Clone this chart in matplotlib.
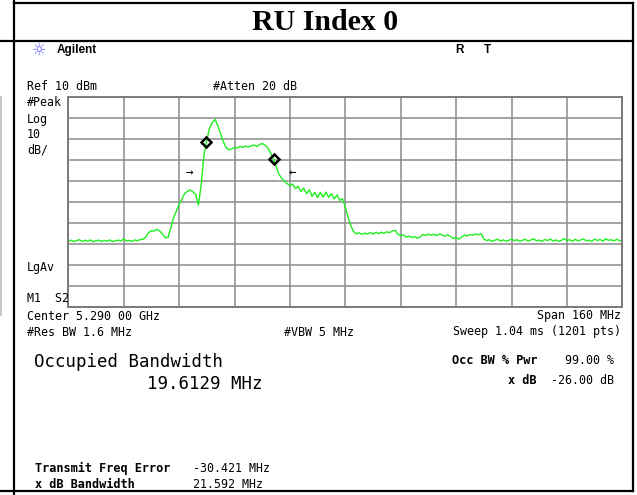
import matplotlib
matplotlib.use('Agg')
import matplotlib.pyplot as plt
import numpy as np
from matplotlib.lines import Line2D

# === ANALYZER SETTINGS === #
center_mhz = 5290.0
span_mhz = 160.0
n_pts = 201              # trace at 201 sweep points
ref_dbm = 10.0
db_per_div = 10.0

# trace level (dBm) at each sweep point
trace_dbm = [
    -58.9, -58.3, -59.0, -58.5, -58.1, -58.9, -58.4, -58.8, -58.2, -59.1,
    -58.6, -58.3, -58.9, -58.5, -58.8, -58.2, -59.0, -58.6, -58.3, -58.7,
    -57.7, -58.8, -58.4, -58.9, -58.2, -58.6, -58.0,
    -57.9, -56.8, -54.6, -53.8, -54.0, -53.1, -54.0, -55.3, -57.2, -57.0,
    -52.5, -47.6, -44.5, -41.3, -38.9, -36.1, -35.1, -34.4, -35.3, -36.6,
    -41.6,
    -31.5, -17.5, -10.5, -5.0, -2.2, -0.8, -3.9, -7.6, -11.6, -14.3,
    -15.3, -14.8, -14.2, -14.4, -13.6, -14.2, -13.5, -14.0, -13.4, -13.0,
    -13.7, -12.8, -12.3, -13.1, -14.3, -16.8, -19.2, -23.0, -26.8, -28.8,
    -30.3, -31.4, -32.3, -31.6, -33.8, -32.7, -35.1, -33.5, -36.2, -34.3,
    -37.4, -35.5, -38.1, -35.6, -37.8, -35.4, -37.9, -36.2, -38.7, -36.8,
    -39.4, -38.6,
    -42.6, -47.3, -51.5, -54.3,
    -55.3, -54.8, -55.6, -54.9, -55.5, -54.7, -55.4, -54.6, -55.2, -54.5,
    -55.1, -54.3, -54.8, -53.9, -53.7,
    -55.5, -56.2, -55.8, -56.9, -56.3, -57.1, -56.6, -57.4, -56.8,
    -55.6, -56.1, -55.4, -56.0, -55.5, -56.2, -55.3, -55.9, -56.4, -55.8,
    -56.6,
    -57.6, -57.1, -57.8, -56.9,
    -55.9, -56.3, -55.6, -56.0, -55.4, -55.8, -55.2,
    -57.8,
    -58.5, -58.1, -58.9, -58.3, -57.9, -58.7, -58.2, -58.8, -58.4, -57.8,
    -58.6, -58.1, -58.9, -58.3, -57.9, -58.8, -58.2, -57.7, -58.6, -58.3,
    -58.9, -58.0, -58.5, -57.8, -58.7, -58.2, -58.9, -58.4, -57.6, -58.5,
    -58.1, -58.8, -57.9, -58.6, -58.2, -57.7, -58.7, -58.3, -58.9, -57.8,
    -58.5, -58.0, -58.8, -57.6, -58.4, -58.1, -58.7, -57.9, -58.5, -58.8,
]

# occupied bandwidth markers (diamonds) and x dB arrows
marker_mhz = [5249.9, 5269.4]
marker_dbm = [-11.4, -19.5]
arrow_mhz = [5244.9, 5274.7]
arrow_dbm = [-26.5, -26.5]
arrow_txt = ['\u2192', '\u2190']

freq = center_mhz - span_mhz / 2 + span_mhz * np.arange(n_pts) / (n_pts - 1)

W, H = 637, 495
def fx(x):
    return x / W
def fy(y):
    return 1 - y / H

mono = 'DejaVu Sans Mono'
fig = plt.figure(figsize=(W / 100, H / 100), dpi=100)
fig.patch.set_facecolor('white')

# === TABLE CELL BORDERS === #
bk = dict(color='black', lw=1.6, transform=fig.transFigure)
fig.add_artist(Line2D([fx(14), fx(633)], [fy(3), fy(3)], **bk))
fig.add_artist(Line2D([fx(0), fx(633)], [fy(41), fy(41)], **bk))
fig.add_artist(Line2D([fx(0), fx(633)], [fy(491), fy(491)], **bk))
fig.add_artist(Line2D([fx(14), fx(14)], [fy(0), fy(495)], **bk))
fig.add_artist(Line2D([fx(633), fx(633)], [fy(3), fy(491)], **bk))
fig.add_artist(Line2D([fx(1), fx(1)], [fy(97), fy(315)], color='#bbbbbb', lw=1.2,
                      transform=fig.transFigure))

fig.text(fx(325), fy(22), 'RU Index 0', ha='center', va='center',
         family='Liberation Serif', weight='bold', fontsize=21.5)

# === SCREEN HEADER === #
fig.text(fx(39), fy(50), '\u263c', ha='center', va='center', color='#5a5aff',
         family='DejaVu Sans', fontsize=11.5)
fig.text(fx(57), fy(50), 'Agilent', ha='left', va='center',
         family='Liberation Sans', weight='bold', fontsize=8.5)
fig.text(fx(460), fy(50), 'R', ha='center', va='center', family='Liberation Sans',
         weight='bold', fontsize=8.5)
fig.text(fx(487), fy(50), 'T', ha='center', va='center', family='Liberation Sans',
         weight='bold', fontsize=8.5)

small = dict(family=mono, fontsize=8.4, va='center')
fig.text(fx(27), fy(86), 'Ref 10 dBm', **small)
fig.text(fx(213), fy(86), '#Atten 20 dB', **small)
fig.text(fx(27), fy(102), '#Peak', **small)
fig.text(fx(27), fy(119), 'Log', **small)
fig.text(fx(27), fy(135), '10', **small)
fig.text(fx(27), fy(150), 'dB/', **small)
fig.text(fx(27), fy(267), 'LgAv', **small)
fig.text(fx(27), fy(298), 'M1  S2', **small)

# === TRACE === #
ax = fig.add_axes([fx(68.3), fy(306.7), 554 / W, 210 / H])
ax.plot(freq, trace_dbm, color='#1ef01e', lw=1.0)
ax.plot(marker_mhz, marker_dbm, 'D', ms=5.5, mfc='none', mec='black', mew=1.8)
for f, l, t in zip(arrow_mhz, arrow_dbm, arrow_txt):
    ax.text(f, l, t, ha='center', va='center', family=mono, fontsize=9)
ax.set_xlim(freq[0], freq[-1])
ax.set_ylim(ref_dbm - 10 * db_per_div, ref_dbm)
ax.set_xticks(np.arange(0, 11) * span_mhz / 10 + freq[0])
ax.set_yticks(ref_dbm - np.arange(0, 11) * db_per_div)
ax.tick_params(length=0, labelbottom=False, labelleft=False)
ax.grid(True, color='#8a8a8a', lw=1.1)
for s in ax.spines.values():
    s.set_color('#7a7a7a')
    s.set_linewidth(1.4)

# === FOOTER === #
fig.text(fx(27), fy(316), 'Center 5.290 00 GHz', **small)
fig.text(fx(621), fy(316), 'Span 160 MHz', ha='right', family=mono, fontsize=8.4, va='center')
fig.text(fx(27), fy(332), '#Res BW 1.6 MHz', **small)
fig.text(fx(284), fy(332), '#VBW 5 MHz', **small)
fig.text(fx(621), fy(332), 'Sweep 1.04 ms (1201 pts)', ha='right', family=mono,
         fontsize=8.4, va='center')

fig.text(fx(34), fy(362), 'Occupied Bandwidth', family=mono, fontsize=12.5, va='center')
fig.text(fx(147), fy(384), '19.6129 MHz', family=mono, fontsize=12.5, va='center')

bold = dict(family=mono, fontsize=8.6, weight='bold', va='center')
fig.text(fx(537), fy(361), 'Occ BW % Pwr', ha='right', **bold)
fig.text(fx(614), fy(361), '99.00 %', ha='right', family=mono, fontsize=8.4, va='center')
fig.text(fx(537), fy(381), 'x dB', ha='right', **bold)
fig.text(fx(614), fy(381), '-26.00 dB', ha='right', family=mono, fontsize=8.4, va='center')

fig.text(fx(35), fy(468), 'Transmit Freq Error', ha='left', **bold)
fig.text(fx(193), fy(468), '-30.421 MHz', **small)
fig.text(fx(35), fy(484), 'x dB Bandwidth', ha='left', **bold)
fig.text(fx(193), fy(484), '21.592 MHz', **small)

fig.savefig('out.png', dpi=100)
